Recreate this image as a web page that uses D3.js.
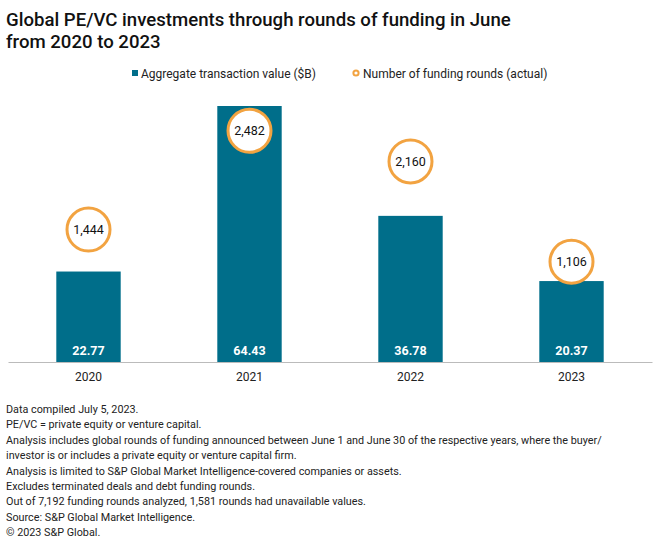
<!DOCTYPE html>
<html><head><meta charset="utf-8">
<script src="https://cdn.jsdelivr.net/npm/d3@7"></script>
<style>
body{margin:0;background:#fff;}
svg{font-family:Roboto, "Noto Sans", sans-serif;}
</style></head>
<body><svg id="c" width="660" height="548"></svg>
<script>
const years = ["2020","2021","2022","2023"];
const transactionValue = [22.77, 64.43, 36.78, 20.37];
const fundingRounds = [1444, 2482, 2160, 1106];
const titleLines = ["Global PE/VC investments through rounds of funding in June","from 2020 to 2023"];
const legendLabels = ["Aggregate transaction value ($B)","Number of funding rounds (actual)"];
const notes = [
 "Data compiled July 5, 2023.",
 "PE/VC = private equity or venture capital.",
 "Analysis includes global rounds of funding announced between June 1 and June 30 of the respective years, where the buyer/",
 "investor is or includes a private equity or venture capital firm.",
 "Analysis is limited to S&P Global Market Intelligence-covered companies or assets.",
 "Excludes terminated deals and debt funding rounds.",
 "Out of 7,192 funding rounds analyzed, 1,581 rounds had unavailable values.",
 "Source: S&P Global Market Intelligence.",
 "\u00a9 2023 S&P Global."
];

const barColor = "#006E8A", ringColor = "#F2A341";
const svg = d3.select("#c");

svg.selectAll("text.title").data(titleLines).join("text")
  .attr("x",6).attr("y",(d,i)=>26+i*22)
  .attr("font-size",18.6).attr("font-weight",500).attr("fill","#111")
  .text(d=>d);

// legend
const lg = svg.append("g");
lg.append("rect").attr("x",132).attr("y",70).attr("width",6).attr("height",6).attr("fill",barColor);
lg.append("text").attr("x",141).attr("y",78).attr("font-size",12).attr("fill","#222").text(legendLabels[0]);
lg.append("circle").attr("cx",356).attr("cy",73).attr("r",2.6).attr("fill","none").attr("stroke",ringColor).attr("stroke-width",2);
lg.append("text").attr("x",363).attr("y",78).attr("font-size",12).attr("fill","#222").text(legendLabels[1]);

const x = d3.scaleBand().domain(years).range([8,652]).paddingInner(0.6).paddingOuter(0.3);
const y = d3.scaleLinear().domain([0,64.43]).range([362,106]);
const y2 = d3.scaleLinear().domain([0,2800]).range([367,100.5]);

svg.selectAll("rect.bar").data(years).join("rect")
  .attr("class","bar")
  .attr("x",d=>x(d)).attr("width",x.bandwidth())
  .attr("y",(d,i)=>y(transactionValue[i])).attr("height",(d,i)=>y(0)-y(transactionValue[i]))
  .attr("fill",barColor);

svg.selectAll("text.bl").data(years).join("text")
  .attr("x",d=>x(d)+x.bandwidth()/2).attr("y",355)
  .attr("text-anchor","middle").attr("font-size",12.5).attr("font-weight",700).attr("fill","#fff")
  .text((d,i)=>d3.format(".2f")(transactionValue[i]));

const xAxis = svg.append("g").attr("transform","translate(0,362)")
  .call(d3.axisBottom(x).tickSize(0).tickPadding(10));
xAxis.select(".domain").attr("stroke","#bbb").attr("stroke-width",1.2);
xAxis.selectAll("text").attr("font-size",12).attr("fill","#222").style("font-family","Roboto, sans-serif");

svg.selectAll("circle.r").data(years).join("circle")
  .attr("cx",d=>x(d)+x.bandwidth()/2).attr("cy",(d,i)=>y2(fundingRounds[i]))
  .attr("r",21.5).attr("fill","#fff").attr("stroke",ringColor).attr("stroke-width",3);
svg.selectAll("text.rl").data(years).join("text")
  .attr("x",d=>x(d)+x.bandwidth()/2).attr("y",(d,i)=>y2(fundingRounds[i])+4.5)
  .attr("text-anchor","middle").attr("font-size",12.5).attr("fill","#111")
  .text((d,i)=>d3.format(",")(fundingRounds[i]));

svg.selectAll("text.note").data(notes).join("text")
  .attr("x",6).attr("y",(d,i)=>413+i*15.4)
  .attr("font-size",10.8).attr("fill","#222")
  .text(d=>d);
</script></body></html>
